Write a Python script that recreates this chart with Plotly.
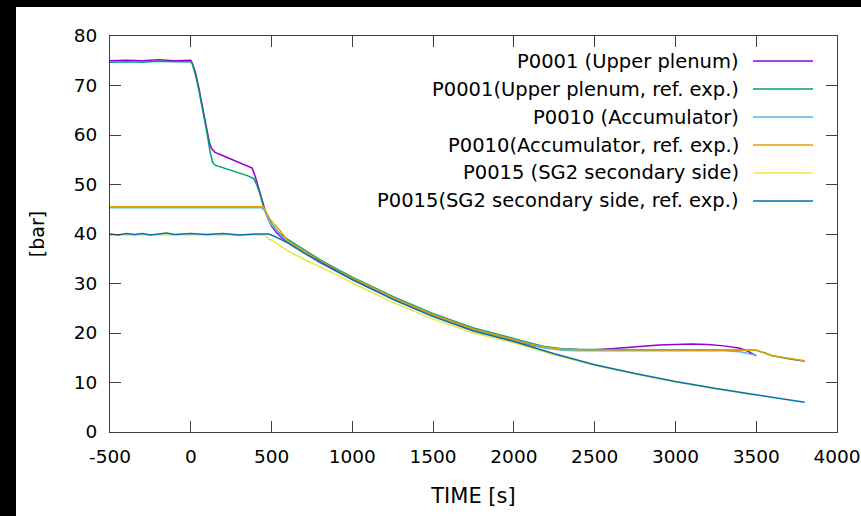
import plotly.graph_objects as go

# ---------------- data ----------------
names = [
    "P0001 (Upper plenum)",
    "P0001(Upper plenum, ref. exp.)",
    "P0010 (Accumulator)",
    "P0010(Accumulator, ref. exp.)",
    "P0015 (SG2 secondary side)",
    "P0015(SG2 secondary side, ref. exp.)",
]
colors = ["#9400d3", "#009e73", "#56b4e9", "#e69f00", "#f0e442", "#0072b2"]

p0001_t = [-500, -400, -300, -200, -100, 0, 10, 30, 50, 75, 100, 115, 130, 150, 200, 250, 300, 350, 380,
           400, 420, 440, 460, 480, 500, 530, 560, 600, 700, 800, 900, 1000, 1250, 1500, 1750, 2000, 2100,
           2200, 2300, 2400, 2500, 2600, 2700, 2800, 2900, 3000, 3100, 3200, 3300, 3400, 3450, 3500]
p0001_v = [75.0, 75.1, 75.0, 75.2, 75.0, 75.1, 74.5, 72.5, 69.5, 65.5, 61.0, 58.5, 57.2, 56.5, 55.8, 55.1,
           54.5, 53.8, 53.3, 51.5, 49.2, 47.0, 44.8, 43.0, 41.6, 40.3, 39.3, 38.3, 36.2, 34.2, 32.5, 30.8,
           27.0, 23.6, 20.6, 18.4, 17.6, 17.0, 16.7, 16.6, 16.6, 16.8, 17.1, 17.4, 17.6, 17.7, 17.8, 17.7,
           17.4, 16.9, 16.3, 15.4]

p0001_ref_t = [-500, -400, -300, -200, -100, 0, 10, 30, 50, 75, 100, 120, 135, 150, 200, 250, 300, 350, 390,
               410, 430, 450, 470, 500, 530, 560, 600, 700, 800, 900, 1000, 1250, 1500, 1750, 2000, 2100,
               2200, 2300, 2400, 2600, 2800, 3000, 3200, 3450, 3500, 3550, 3600, 3700, 3800]
p0001_ref_v = [74.7, 74.8, 74.7, 74.9, 74.8, 74.8, 74.3, 72.0, 69.0, 65.0, 60.5, 56.5, 54.5, 53.9, 53.4,
               52.9, 52.4, 51.8, 51.2, 49.8, 47.8, 45.5, 43.8, 42.0, 40.8, 39.8, 38.9, 36.8, 34.8, 33.0,
               31.3, 27.4, 23.9, 21.0, 18.8, 18.0, 17.2, 16.8, 16.7, 16.6, 16.6, 16.6, 16.6, 16.6, 16.5,
               16.0, 15.4, 14.8, 14.3]

p0010_t = [-500, 0, 440, 460, 480, 500, 530, 560, 600, 700, 800, 900, 1000, 1250, 1500, 1750, 2000, 2100,
           2200, 2300, 2400, 2800, 3300, 3400, 3450, 3500]
p0010_v = [45.3, 45.3, 45.3, 44.6, 43.0, 41.8, 40.6, 39.6, 38.5, 36.3, 34.3, 32.5, 30.8, 26.9, 23.4, 20.5,
           18.3, 17.5, 16.9, 16.5, 16.4, 16.4, 16.4, 16.2, 15.9, 15.5]

p0010_ref_t = [-500, 0, 450, 470, 490, 520, 550, 600, 700, 800, 900, 1000, 1250, 1500, 1750, 2000, 2100,
               2200, 2300, 2400, 3000, 3450, 3500, 3550, 3600, 3700, 3800]
p0010_ref_v = [45.5, 45.5, 45.5, 44.2, 43.0, 41.8, 40.8, 38.6, 36.6, 34.6, 32.8, 31.1, 27.2, 23.7, 20.8,
               18.6, 17.8, 17.1, 16.7, 16.6, 16.6, 16.6, 16.5, 16.0, 15.4, 14.9, 14.4]

p0015_t = [-500, 0, 460, 470, 480, 500, 530, 560, 600, 700, 800, 900, 1000, 1250, 1500, 1750, 2000, 2250,
           2500, 2750, 3000, 3250, 3500]
p0015_v = [39.8, 39.8, 39.8, 39.5, 39.0, 38.8, 38.1, 37.4, 36.6, 34.9, 33.4, 31.8, 30.1, 26.2, 22.8, 20.0,
           18.0, 15.6, 13.5, 11.7, 10.1, 8.7, 7.4]

p0015_ref_t = [-500, -450, -400, -350, -300, -250, -200, -150, -100, -50, 0, 100, 200, 300, 400, 480, 500,
               550, 600, 700, 800, 900, 1000, 1250, 1500, 1750, 2000, 2250, 2500, 2750, 3000, 3250, 3500,
               3650, 3800]
p0015_ref_v = [40.0, 39.8, 40.1, 39.9, 40.1, 39.8, 40.0, 40.2, 39.9, 40.0, 40.1, 39.9, 40.1, 39.8, 40.0,
               40.0, 39.8, 39.0, 38.2, 36.2, 34.4, 32.6, 30.8, 26.8, 23.3, 20.4, 18.3, 15.8, 13.6, 11.8,
               10.2, 8.8, 7.5, 6.8, 6.0]

series_t = [p0001_t, p0001_ref_t, p0010_t, p0010_ref_t, p0015_t, p0015_ref_t]
series_v = [p0001_v, p0001_ref_v, p0010_v, p0010_ref_v, p0015_v, p0015_ref_v]

x_ticks = [-500, 0, 500, 1000, 1500, 2000, 2500, 3000, 3500, 4000]
y_ticks = [0, 10, 20, 30, 40, 50, 60, 70, 80]

# ---------------- figure ----------------
W, H = 861, 516
# plot area in page pixels: x 110..837, y 36..432 (page margin removed below)
ML, MT = 110, 36
MR, MB = W - 837, H - 432
PW, PH = W - ML - MR, H - MT - MB
FONT = "DejaVu Sans"
TICK_SIZE = 18.5
LEG_SIZE = 19.5

fig = go.Figure()
for n, c, t, v in zip(names, colors, series_t, series_v):
    fig.add_trace(go.Scatter(x=t, y=v, mode="lines", name=n,
                             line=dict(color=c, width=1.5), showlegend=False))

axis_common = dict(showline=True, mirror="ticks", linecolor="#404040", linewidth=1,
                   ticks="inside", ticklen=11, tickcolor="#404040", tickwidth=1,
                   showgrid=False, zeroline=False, automargin=False,
                   ticklabeloverflow="allow",
                   tickfont=dict(family=FONT, size=TICK_SIZE, color="#000"))

fig.update_xaxes(range=[-500, 4000], tickvals=x_ticks, ticktext=[str(v) for v in x_ticks],
                 ticklabelstandoff=8,
                 title=dict(text="TIME [s]", font=dict(family=FONT, size=21, color="#000"), standoff=22),
                 **axis_common)
fig.update_yaxes(range=[0, 80], tickvals=y_ticks, ticktext=[str(v) for v in y_ticks],
                 ticklabelstandoff=8,
                 title=dict(text="[bar]", font=dict(family=FONT, size=19, color="#000"), standoff=24),
                 **axis_common)


def px_x(p):  # page px -> paper
    return (p - ML) / PW


def px_y(p):
    return (MT + PH - p) / PH


row_y = [61, 89, 117, 145, 173, 201]
shapes = []
annotations = []
for n, c, ry in zip(names, colors, row_y):
    annotations.append(dict(xref="paper", yref="paper", x=px_x(741), y=px_y(ry), text=n,
                            showarrow=False, xanchor="right", yanchor="middle",
                            font=dict(family=FONT, size=LEG_SIZE, color="#000")))
    shapes.append(dict(type="line", xref="paper", yref="paper", x0=px_x(753), x1=px_x(813),
                       y0=px_y(ry), y1=px_y(ry), line=dict(color=c, width=1.5)))

# dark bands at the top and left edges of the picture
shapes.append(dict(type="rect", xref="paper", yref="paper", x0=px_x(-1), x1=px_x(16),
                   y0=px_y(H + 1), y1=px_y(-1), fillcolor="#000", line=dict(width=0), layer="above"))
shapes.append(dict(type="rect", xref="paper", yref="paper", x0=px_x(-1), x1=px_x(W + 1),
                   y0=px_y(7), y1=px_y(-1), fillcolor="#000", line=dict(width=0), layer="above"))

fig.update_layout(width=W, height=H, margin=dict(l=ML, r=MR, t=MT, b=MB, autoexpand=False),
                  paper_bgcolor="#fff", plot_bgcolor="#fff",
                  shapes=shapes, annotations=annotations, showlegend=False,
                  font=dict(family=FONT, size=TICK_SIZE, color="#000"))

fig.write_html("out.html", config={"displayModeBar": False},
               post_script="document.body.style.margin='0';document.body.style.overflow='hidden';")
